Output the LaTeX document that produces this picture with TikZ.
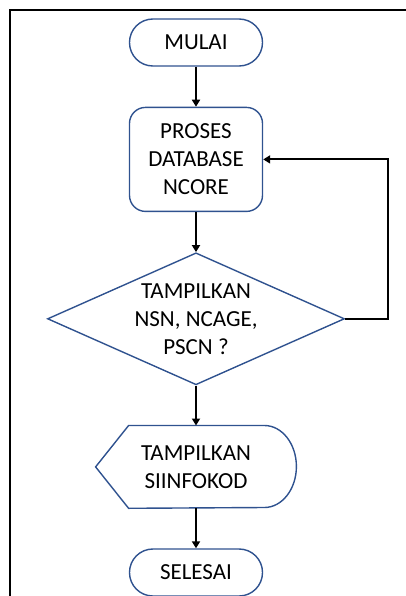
\documentclass[tikz,border=0pt]{standalone}
\usepackage{fontspec}
\setmainfont{Carlito}
\usetikzlibrary{arrows.meta,positioning,shapes.geometric}
\definecolor{shapeblue}{RGB}{47,82,143}

\begin{document}
\begin{tikzpicture}[
    node distance=20pt,
    font=\fontsize{11.5}{14}\selectfont,
    outline/.style={draw=shapeblue, line width=0.7pt},
    base/.style={outline, align=center, inner sep=0pt},
    term/.style={base, rectangle, rounded corners=11.7pt, minimum width=66.5pt, minimum height=23.5pt},
    proc/.style={base, rectangle, rounded corners=8pt, minimum width=66.5pt, minimum height=52pt},
    decide/.style={base, diamond, aspect=2.25, inner sep=-1pt, minimum width=148.5pt, minimum height=66pt},
    dispbox/.style={align=center, inner sep=0pt, minimum width=100pt, minimum height=41pt},
    flow/.style={-{Triangle[length=3.5pt,width=4pt]}, line width=1pt}]
  \useasboundingbox (0,0) rectangle (203pt,-298pt);
  \draw[line width=1pt] (5pt,-298pt) -- (5pt,-5pt) -- (203pt,-5pt);
  \node[term] (mulai) at (98pt,-21.25pt) {MULAI};
  \node[proc, below=of mulai] (proses) {PROSES\\DATABASE\\NCORE};
  \node[decide, below=of proses] (cek) {TAMPILKAN\\NSN, NCAGE,\\PSCN ?};
  \node[dispbox, below=of cek] (tampil) {TAMPILKAN\\SIINFOKOD};
  \draw[outline] (tampil.west) -- ([xshift=16.5pt]tampil.north west)
    -- ([xshift=-16pt]tampil.north east)
    arc[start angle=90, end angle=-90, x radius=16pt, y radius=20.5pt]
    -- ([xshift=16.5pt]tampil.south west) -- cycle;
  \node[term, below=of tampil] (selesai) {SELESAI};
  \draw[flow] (mulai) -- (proses);
  \draw[flow] (proses) -- (cek);
  \draw[flow] (cek) -- (tampil);
  \draw[flow] (tampil) -- (selesai);
  \draw[flow] (cek.east) -- ++(21.5pt,0) |- (proses.east);
\end{tikzpicture}
\end{document}
